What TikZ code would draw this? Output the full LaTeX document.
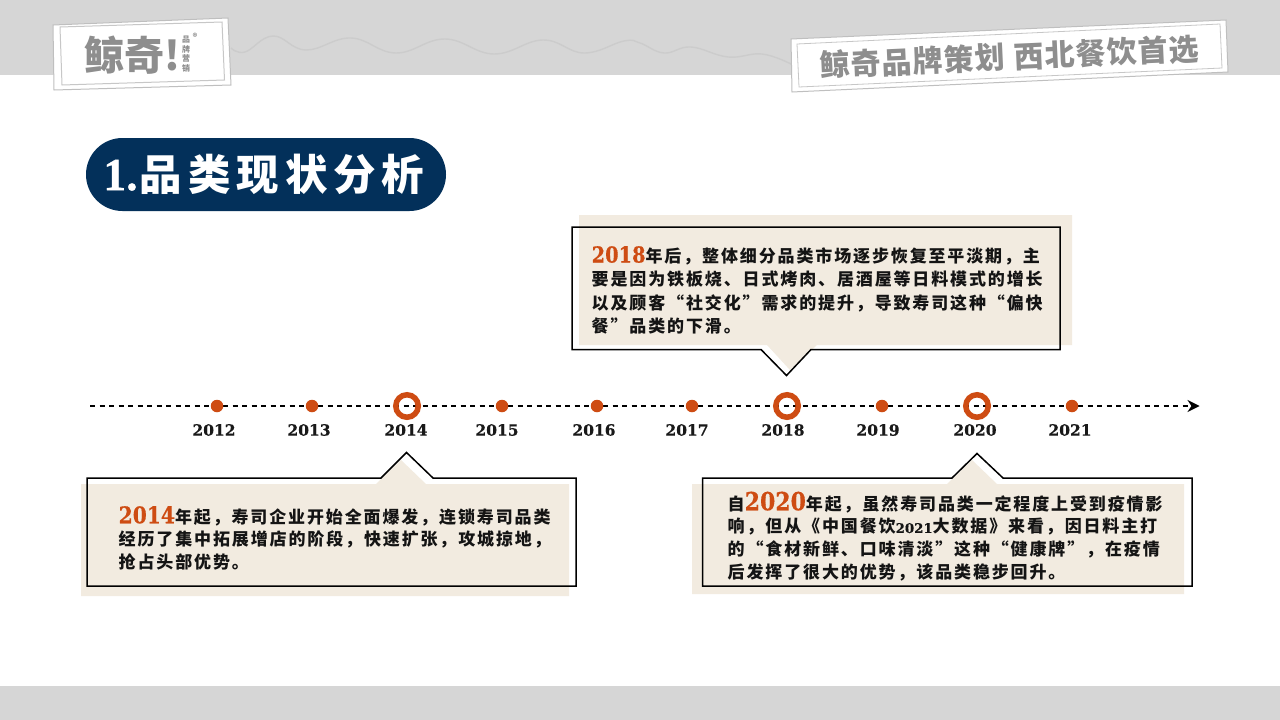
\documentclass[tikz,border=0pt]{standalone}
\usepackage{fontspec}
\usetikzlibrary{arrows.meta}
\newfontfamily\bodycjk[LetterSpace=11]{Noto Sans CJK SC Black}
\newfontfamily\titlecjk[LetterSpace=14]{Noto Sans CJK SC Black}
\newfontfamily\tagcjk[LetterSpace=4]{Noto Sans CJK SC Black}
\newfontfamily\plaincjk{Noto Sans CJK SC Black}
\newfontfamily\numfont[FakeBold=0.4]{DejaVu Serif Bold}
\newfontfamily\hlfont[FakeStretch=0.88,FakeBold=0.4]{DejaVu Serif Bold}
\newfontfamily\onefont[FakeBold=0.6]{Liberation Serif Bold}
\definecolor{bandgrey}{HTML}{D6D6D6}
\definecolor{beige}{HTML}{F2EBE0}
\definecolor{navy}{HTML}{03305A}
\definecolor{rust}{HTML}{CE4C13}
\definecolor{logogrey}{HTML}{8E8E8E}
\newcommand{\hlyear}[2][22]{{\fontsize{#1}{23}\selectfont\hlfont\color{rust}#2}}
\tikzset{
  band/.style={fill=bandgrey,draw=none},
  shadowbox/.style={fill=beige,draw=none},
  calloutline/.style={draw=black,line width=1.5pt,line join=miter},
  dotmark/.style={circle,fill=rust,draw=none,minimum size=12.5pt,inner sep=0pt},
  ringmark/.style={circle,draw=rust,line width=5.5pt,fill=none,minimum size=22.5pt,inner sep=0pt},
  yearlabel/.style={font=\numfont\fontsize{15.5}{18}\selectfont,text=black!90,inner sep=0pt},
  bodytext/.style={anchor=north west,align=left,inner sep=0pt,text=black!92,font=\bodycjk\fontsize{17}{#1}\selectfont},
  tagedge/.style={fill=white,draw=black!25,line width=1pt},
  taginner/.style={draw=black!22,line width=1pt,fill=white}
}
\begin{document}
\begin{tikzpicture}[x=1pt,y=-1pt]
\useasboundingbox (0,0) rectangle (1280,720);
\fill[white] (0,0) rectangle (1280,720);
% bands
\path[band] (0,0) rectangle (1280,75);
\path[band] (0,686) rectangle (1280,720);
% wave
\draw[black!20,line width=1.4pt] plot[smooth,tension=0.7] coordinates {(231,48) (245,52) (273,36) (306,50) (351,38) (396,53) (445,39) (494,54) (543,40) (584,53) (624,41) (640,43) (664,53) (691,47) (728,57) (762,54) (791,64)};
% logo tag
\path[tagedge] (53,25) -- (228,18) -- (231,85) -- (54,90) -- cycle;
\path[taginner] (60,27) -- (222,22) -- (224.5,80) -- (62,85) -- cycle;
\node[inner sep=0pt,text=logogrey,font=\plaincjk\fontsize{40}{40}\selectfont] (logoname) at (132,55) {鲸奇!};
\node[inner sep=0pt,align=center,text=logogrey,font=\plaincjk\fontsize{8}{9.6}\selectfont] (logosub) at (186,54) {品\\牌\\营\\销};
\node[inner sep=0pt,text=logogrey,font=\plaincjk\fontsize{9}{9}\selectfont] (logoreg) at (195,37) {®};
% slogan tag
\path[tagedge] (791,39) -- (1226,20) -- (1228,72) -- (792,92) -- cycle;
\path[draw=black!22,line width=0.8pt] (797,44) -- (1220,24) -- (1222,68) -- (799,87) -- cycle;
\node[inner sep=0pt,rotate=2.6,text=logogrey,font=\tagcjk\fontsize{30}{30}\selectfont] (slogan) at (1009.5,57) {鲸奇品牌策划 西北餐饮首选};
% title pill
\node[fill=navy,rounded corners=36.5pt,minimum width=360pt,minimum height=73pt,inner sep=0pt] (titlepill) at (266,174.5) {};
\node[anchor=west,inner sep=0pt,text=white] (titletext) at (103,174) {{\onefont\fontsize{46}{46}\selectfont 1.}\kern2pt{\titlecjk\fontsize{42.5}{46}\selectfont 品类现状分析}};
% 2018 callout
\path[shadowbox] (579,215) -- (1072,215) -- (1072,345) -- (817,345) -- (790,370) -- (767,345) -- (579,345) -- cycle;
\path[calloutline] (572,227) -- (1060,227) -- (1060,349.5) -- (811,349.5) -- (786.5,375.5) -- (761,349.5) -- (572,349.5) -- cycle;
\node[bodytext=23.3] (text2018) at (591.5,246) {\hlyear{2018}年后，整体细分品类市场逐步恢复至平淡期，主\\要是因为铁板烧、日式烤肉、居酒屋等日料模式的增长\\以及顾客“社交化”需求的提升，导致寿司这种“偏快\\餐”品类的下滑。};
% 2014 callout
\path[shadowbox] (81,484) -- (376,484) -- (401,460) -- (426,484) -- (569,484) -- (569,596) -- (81,596) -- cycle;
\path[calloutline] (87,478) -- (381,478) -- (406.5,452.5) -- (433,478) -- (576,478) -- (576,586) -- (87,586) -- cycle;
\node[bodytext=22.5] (text2014) at (118.5,506) {\hlyear[23]{2014}年起，寿司企业开始全面爆发，连锁寿司品类\\经历了集中拓展增店的阶段，快速扩张，攻城掠地，\\抢占头部优势。};
% 2020 callout
\path[shadowbox] (692,484) -- (947,484) -- (972,460) -- (997,484) -- (1184,484) -- (1184,594) -- (692,594) -- cycle;
\path[calloutline] (702.5,478) -- (952,478) -- (977,453.5) -- (1003,478) -- (1192,478) -- (1192,586) -- (702.5,586) -- cycle;
\node[bodytext=22.7] (text2020) at (727.5,491.5) {自\hlyear[25]{2020}年起，虽然寿司品类一定程度上受到疫情影\\响，但从《中国餐饮{\numfont\fontsize{13.3}{20}\selectfont 2021}大数据》来看，因日料主打\\的“食材新鲜、口味清淡”这种“健康牌”，在疫情\\后发挥了很大的优势，该品类稳步回升。};
% timeline
\coordinate (axisstart) at (90,406);
\coordinate (axisend) at (1199.5,406);
\draw[black,line width=1.3pt,dash pattern=on 5pt off 4.5pt,-{Stealth[length=12pt,width=12pt]}] (axisstart) -- (axisend);
\node[dotmark] (m2012) at (217,406) {};
\node[dotmark] (m2013) at (312,406) {};
\node[ringmark] (m2014) at (407,406) {};
\node[dotmark] (m2015) at (502,406) {};
\node[dotmark] (m2016) at (597,406) {};
\node[dotmark] (m2017) at (692,406) {};
\node[ringmark] (m2018) at (787,406) {};
\node[dotmark] (m2019) at (882,406) {};
\node[ringmark] (m2020) at (977,406) {};
\node[dotmark] (m2021) at (1072,406) {};
\node[yearlabel] (y2012) at (214,430) {2012};
\node[yearlabel] (y2013) at (309,430) {2013};
\node[yearlabel] (y2014) at (406,430) {2014};
\node[yearlabel] (y2015) at (497,430) {2015};
\node[yearlabel] (y2016) at (594,430) {2016};
\node[yearlabel] (y2017) at (687,430) {2017};
\node[yearlabel] (y2018) at (783,430) {2018};
\node[yearlabel] (y2019) at (878,430) {2019};
\node[yearlabel] (y2020) at (975,430) {2020};
\node[yearlabel] (y2021) at (1070,430) {2021};
\end{tikzpicture}
\end{document}
